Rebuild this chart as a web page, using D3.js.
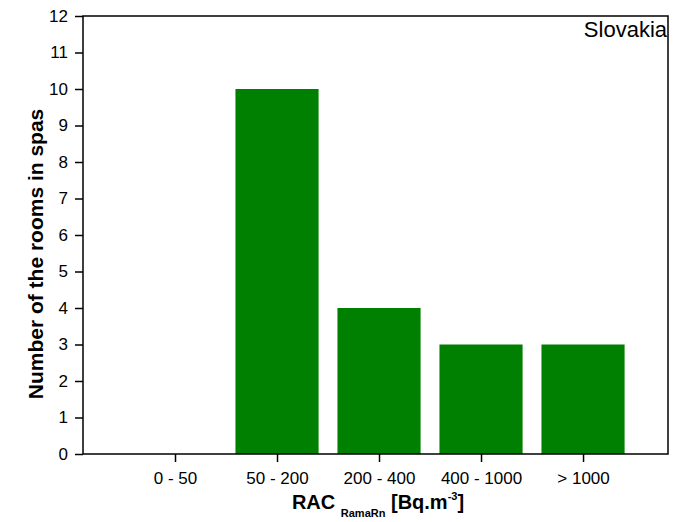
<!DOCTYPE html>
<html>
<head>
<meta charset="utf-8">
<script src="https://cdn.jsdelivr.net/npm/d3@7"></script>
<style>
  body { margin: 0; background: #fff; }
  text { font-family: "Liberation Sans", Arial, sans-serif; }
</style>
</head>
<body>
<svg id="chart" width="679" height="522"></svg>
<script>
// Data
const categories = ["0 - 50", "50 - 200", "200 - 400", "400 - 1000", "> 1000"];
const counts = [0, 10, 4, 3, 3];
const yTicks = [0, 1, 2, 3, 4, 5, 6, 7, 8, 9, 10, 11, 12];

const dimensions = {
    width: 679,
    height: 522,
    margin: { top: 16, bottom: 68, right: 11, left: 83 },
};

const svg = d3.select("#chart");
const plotW = dimensions.width - dimensions.margin.left - dimensions.margin.right;
const plotH = dimensions.height - dimensions.margin.top - dimensions.margin.bottom;

// categories sit at positions 1..5
const xScale = d3.scaleLinear()
    .domain([0.098, 5.833])
    .range([dimensions.margin.left, dimensions.margin.left + plotW]);

const yScale = d3.scaleLinear()
    .domain([0, 12])
    .range([dimensions.margin.top + plotH, dimensions.margin.top]);

const barWidth = (xScale(2) - xScale(1)) * 0.815;

// Bars
svg.selectAll("rect.bar")
    .data(counts)
    .enter()
    .append("rect")
    .attr("class", "bar")
    .attr("x", (d, i) => xScale(i + 1) - barWidth / 2)
    .attr("y", d => yScale(d))
    .attr("width", barWidth)
    .attr("height", d => yScale(0) - yScale(d))
    .attr("fill", "#008000");

// Frame
svg.append("rect")
    .attr("x", dimensions.margin.left)
    .attr("y", dimensions.margin.top)
    .attr("width", plotW)
    .attr("height", plotH)
    .attr("fill", "none")
    .attr("stroke", "#000")
    .attr("stroke-width", 1.5);

// Y axis
const yAxis = svg.append("g")
    .attr("transform", `translate(${dimensions.margin.left},0)`)
    .call(d3.axisLeft(yScale).tickValues(yTicks).tickSize(8).tickPadding(7).tickSizeOuter(0));
yAxis.select(".domain").remove();
yAxis.selectAll("line").attr("stroke-width", 1.5);
yAxis.selectAll("text").style("font-size", "17px").attr("fill", "#000");

// X axis
const xAxis = svg.append("g")
    .attr("transform", `translate(0,${dimensions.margin.top + plotH})`)
    .call(d3.axisBottom(xScale)
        .tickValues([1, 2, 3, 4, 5])
        .tickFormat((d, i) => categories[i])
        .tickSize(8).tickPadding(10).tickSizeOuter(0));
xAxis.select(".domain").remove();
xAxis.selectAll("line").attr("stroke-width", 1.5);
xAxis.selectAll("text").style("font-size", "17px").attr("fill", "#000");

// X title
const xTitle = svg.append("text")
    .attr("x", 378)
    .attr("y", 509)
    .attr("text-anchor", "middle")
    .style("font-size", "20px")
    .style("font-weight", "bold");
xTitle.append("tspan").text("RAC ");
xTitle.append("tspan").attr("dy", 8).style("font-size", "11px").text("RamaRn");
xTitle.append("tspan").attr("dy", -8).text(" [Bq.m");
xTitle.append("tspan").attr("dy", -9).style("font-size", "11px").text("-3");
xTitle.append("tspan").attr("dy", 9).text("]");

// Y title
svg.append("text")
    .attr("transform", "translate(43,254) rotate(-90)")
    .attr("text-anchor", "middle")
    .style("font-size", "21px")
    .style("font-weight", "bold")
    .text("Number of the rooms in spas");

// Country label
svg.append("text")
    .attr("x", dimensions.margin.left + plotW - 1)
    .attr("y", 37)
    .attr("text-anchor", "end")
    .style("font-size", "22px")
    .text("Slovakia");
</script>
</body>
</html>
